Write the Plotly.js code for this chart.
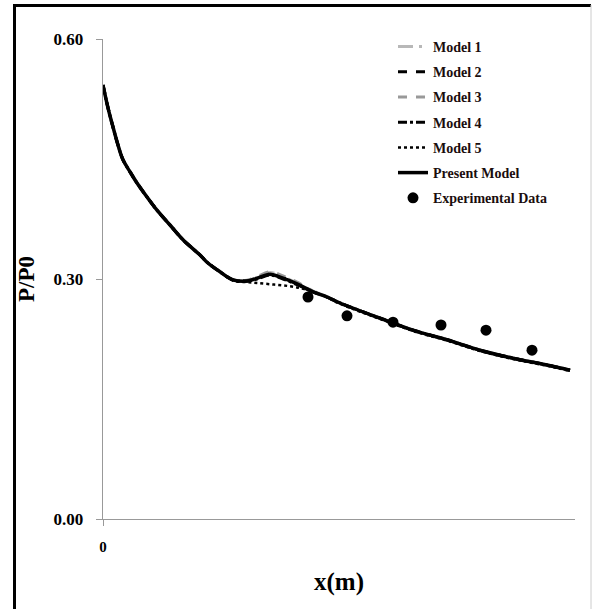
<!DOCTYPE html>
<html>
<head>
<meta charset="utf-8">
<script src="https://cdn.plot.ly/plotly-3.0.1.min.js"></script>
<style>html,body{margin:0;padding:0;background:#fff;}#chart{width:595px;height:609px;}</style>
</head>
<body>
<div id="chart"></div>
<script>
// x positions (m) along the curve
const xCurve = [0, 0.005, 0.010, 0.015, 0.020, 0.027, 0.034, 0.044, 0.054, 0.067, 0.080, 0.097, 0.104, 0.117, 0.130, 0.144, 0.154, 0.167, 0.180, 0.194, 0.210, 0.224, 0.237, 0.277, 0.310, 0.344, 0.377, 0.410, 0.444, 0.467];
const presentModel = [0.5425, 0.514, 0.490, 0.4675, 0.449, 0.434, 0.420, 0.4025, 0.386, 0.3675, 0.349, 0.330, 0.321, 0.309, 0.299, 0.2975, 0.301, 0.306, 0.301, 0.294, 0.284, 0.2775, 0.270, 0.251, 0.236, 0.224, 0.211, 0.201, 0.1925, 0.186];
const model1 = [0.5425, 0.514, 0.490, 0.4675, 0.449, 0.434, 0.420, 0.4025, 0.386, 0.3675, 0.349, 0.330, 0.321, 0.309, 0.299, 0.2980, 0.302, 0.308, 0.303, 0.295, 0.285, 0.2780, 0.270, 0.251, 0.236, 0.224, 0.211, 0.201, 0.1925, 0.186];
const model2 = [0.5425, 0.514, 0.490, 0.4675, 0.449, 0.434, 0.420, 0.4025, 0.386, 0.3675, 0.349, 0.330, 0.321, 0.309, 0.299, 0.2975, 0.301, 0.307, 0.302, 0.294, 0.284, 0.2775, 0.270, 0.251, 0.236, 0.224, 0.211, 0.201, 0.1925, 0.186];
const model3 = [0.5425, 0.514, 0.490, 0.4675, 0.449, 0.434, 0.420, 0.4025, 0.386, 0.3675, 0.349, 0.330, 0.321, 0.309, 0.299, 0.2985, 0.303, 0.309, 0.304, 0.296, 0.285, 0.2780, 0.270, 0.251, 0.236, 0.224, 0.211, 0.201, 0.1925, 0.186];
const model4 = [0.5425, 0.514, 0.490, 0.4675, 0.449, 0.434, 0.420, 0.4025, 0.386, 0.3675, 0.349, 0.330, 0.321, 0.309, 0.299, 0.2975, 0.300, 0.305, 0.300, 0.293, 0.284, 0.2775, 0.270, 0.251, 0.236, 0.224, 0.211, 0.201, 0.1925, 0.186];
const model5 = [0.5425, 0.514, 0.490, 0.4675, 0.449, 0.434, 0.420, 0.4025, 0.386, 0.3675, 0.349, 0.330, 0.321, 0.309, 0.298, 0.2960, 0.295, 0.2935, 0.292, 0.2895, 0.284, 0.2770, 0.269, 0.250, 0.235, 0.223, 0.210, 0.200, 0.1915, 0.185];
// experimental data
const xExp = [0.205, 0.244, 0.290, 0.338, 0.383, 0.429];
const yExp = [0.2775, 0.254, 0.246, 0.2425, 0.236, 0.211];
const yTicks = [0, 0.30, 0.60];
const yTickText = ['<b>0.00</b>', '<b>0.30</b>', '<b>0.60</b>'];
const xTicks = [0];
const xTickText = ['<b>0</b>'];

const serif = 'Liberation Serif, Times New Roman, serif';
const sp = {shape: 'spline', smoothing: 1};
const traces = [
  {x: xCurve, y: model1, name: '<b>Model 1</b>', mode: 'lines', line: Object.assign({color: '#b8b8b8', width: 3, dash: 'longdashdot'}, sp), legendgroup: 'a'},
  {x: xCurve, y: model2, name: '<b>Model 2</b>', mode: 'lines', line: Object.assign({color: '#000', width: 3, dash: 'dash'}, sp), legendgroup: 'b'},
  {x: xCurve, y: model3, name: '<b>Model 3</b>', mode: 'lines', line: Object.assign({color: '#999', width: 3, dash: 'dash'}, sp), legendgroup: 'c'},
  {x: xCurve, y: model4, name: '<b>Model 4</b>', mode: 'lines', line: Object.assign({color: '#000', width: 3, dash: 'dashdot'}, sp), legendgroup: 'd'},
  {x: xCurve, y: model5, name: '<b>Model 5</b>', mode: 'lines', line: Object.assign({color: '#000', width: 2.5, dash: 'dot'}, sp), legendgroup: 'e'},
  {x: xCurve, y: presentModel, name: '<b>Present Model</b>', mode: 'lines', line: Object.assign({color: '#000', width: 3.5}, sp), legendgroup: 'f'},
  {x: xExp, y: yExp, name: '<b>Experimental Data</b>', mode: 'markers', marker: {color: '#000', size: 11}, legendgroup: 'g'}
];

const px = v => (v - 103) / 472;
const py = v => (519 - v) / 480;

const layout = {
  width: 595, height: 609,
  margin: {l: 103, r: 20, t: 39, b: 90},
  paper_bgcolor: '#fff', plot_bgcolor: '#fff',
  font: {family: serif, color: '#000'},
  showlegend: true,
  legend: {x: px(393), y: py(31), xanchor: 'left', yanchor: 'top', bgcolor: 'rgba(0,0,0,0)',
           font: {family: serif, size: 14, color: '#1a0d0d'}, traceorder: 'grouped', tracegroupgap: 4, itemwidth: 30},
  xaxis: {range: [0, 0.472], showgrid: false, zeroline: false, showline: true, linecolor: '#999', linewidth: 1.3,
          tickmode: 'array', tickvals: xTicks, ticktext: xTickText, ticks: 'outside', ticklen: 6, tickcolor: '#999',
          ticklabelstandoff: 8,
          tickfont: {family: serif, size: 15, color: '#000'},
          title: {text: '<b>x(m)</b>', font: {family: serif, size: 25, color: '#000'}, standoff: 18}},
  yaxis: {range: [0, 0.6], showgrid: false, zeroline: false, showline: true, linecolor: '#999', linewidth: 1.3,
          tickmode: 'array', tickvals: yTicks, ticktext: yTickText, ticks: 'outside', ticklen: 6, tickcolor: '#999',
          ticklabelstandoff: 9,
          tickfont: {family: serif, size: 17, color: '#000'},
          title: {text: '<b>P/P0</b>', font: {family: serif, size: 23, color: '#000'}, standoff: 12}},
  shapes: [
    {type: 'line', xref: 'paper', yref: 'paper', x0: px(14.5), x1: px(14.5), y0: py(4), y1: py(615), line: {color: '#000', width: 3}},
    {type: 'line', xref: 'paper', yref: 'paper', x0: px(13), x1: px(591), y0: py(5.5), y1: py(5.5), line: {color: '#000', width: 3}},
    {type: 'line', xref: 'paper', yref: 'paper', x0: px(591), x1: px(591), y0: py(5), y1: py(615), line: {color: '#ccc', width: 1}}
  ]
};
Plotly.newPlot('chart', traces, layout, {staticPlot: true});
</script>
</body>
</html>
